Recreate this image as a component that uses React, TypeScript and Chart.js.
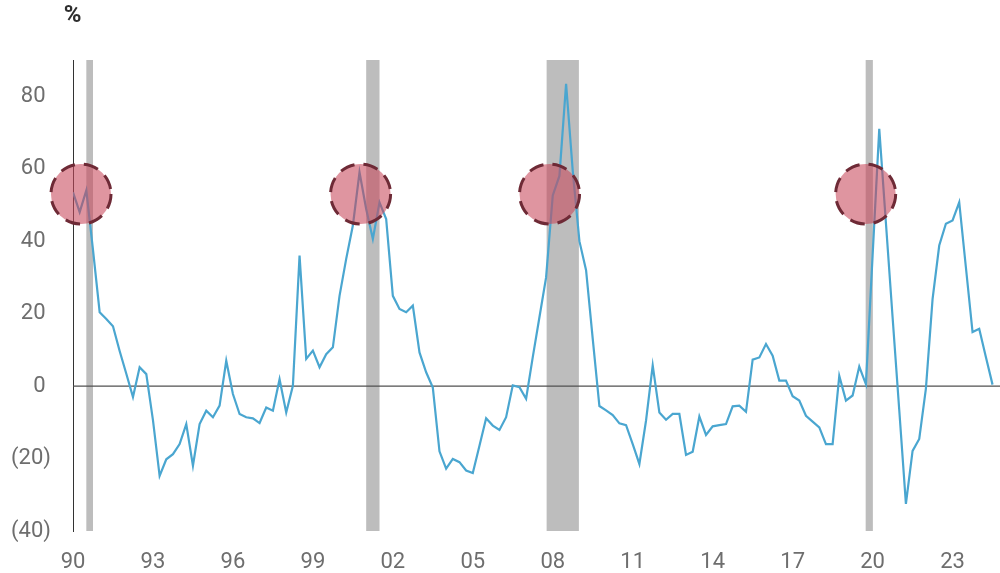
import React, { useEffect, useRef } from 'react';
import { Chart, registerables } from 'chart.js';

Chart.register(...registerables);

// Quarterly series starting 1990 Q1 (percent)
const startYear = 1990;
const growthValues = [
  53.5, 48, 54, 37.6, 20.4, 18.5, 16.5, 9.7, 3.4, -3,
  5.2, 3.3, -9.4, -24.8, -20.2, -18.8, -16, -10.5, -22, -10.5,
  -6.8, -8.6, -5.4, 7, -2.2, -7.7, -8.6, -8.9, -10.2, -5.9,
  -6.8, 1.9, -7.3, 0.1, 36, 7.5, 9.8, 5.2, 8.8, 10.7,
  24.9, 35.1, 44.3, 59, 48.9, 40.6, 50.7, 46.1, 24.9, 21.3,
  20.4, 22.2, 9.3, 3.8, -0.4, -18, -22.8, -20.1, -21, -23.3,
  -24, -16.5, -8.9, -10.9, -12.1, -8.6, 0.2, -0.3, -3.5, 8,
  19, 30, 52.6, 58, 83.4, 59.4, 40, 32, 13, -5.5,
  -6.7, -8, -10.3, -10.8, -16, -21.5, -9.5, 5.7, -7.3, -9.3,
  -7.7, -7.7, -19, -18.1, -8.4, -13.5, -11.1, -10.8, -10.5, -5.6,
  -5.4, -7.1, 7.3, 7.9, 11.6, 8.4, 1.5, 1.5, -2.8, -4,
  -8.2, -9.8, -11.4, -16, -16, 2.8, -4, -2.6, 5.4, 0.5,
  36, 71, 45, 19, -6.6, -32.5, -17.9, -14.6, -0.7, 24,
  38.8, 44.8, 45.7, 50.7, 32.8, 14.9, 15.8, 8, 0.4,
];
const quarterDates = growthValues.map((_, i) => startYear + i / 4);

const xTickYears = [1990, 1993, 1996, 1999, 2002, 2005, 2008, 2011, 2014, 2017, 2020, 2023];
const yTickValues = [-40, -20, 0, 20, 40, 60, 80];

const recessionStarts = [1990.5, 2001.0, 2007.77, 2019.74];
const recessionEnds = [1990.75, 2001.5, 2008.98, 2020.01];

const highlightYears = [1990.3, 2000.79, 2007.88, 2019.74];
const highlightValues = [53, 53, 53, 53];

const FONT = 'Roboto, "Noto Sans", Arial, sans-serif';

const overlayPlugin = {
  id: 'overlay',
  beforeDatasetsDraw(chart: any) {
    const { ctx, chartArea, scales } = chart;
    const x = scales.x;
    const y = scales.y;
    ctx.save();
    ctx.fillStyle = '#bdbdbd';
    recessionStarts.forEach((s, k) => {
      const x0 = x.getPixelForValue(s);
      const x1 = x.getPixelForValue(recessionEnds[k]);
      ctx.fillRect(x0, chartArea.top, x1 - x0, chartArea.bottom - chartArea.top);
    });
    const y0 = y.getPixelForValue(0);
    ctx.strokeStyle = '#505050';
    ctx.lineWidth = 1.3;
    ctx.beginPath();
    ctx.moveTo(chartArea.left, y0);
    ctx.lineTo(chartArea.right, y0);
    ctx.stroke();
    ctx.restore();
  },
  afterDatasetsDraw(chart: any) {
    const { ctx, scales } = chart;
    const x = scales.x;
    const y = scales.y;
    ctx.save();
    highlightYears.forEach((yr, k) => {
      const cx = x.getPixelForValue(yr);
      const cy = y.getPixelForValue(highlightValues[k]);
      ctx.beginPath();
      ctx.arc(cx, cy, 30, 0, Math.PI * 2);
      ctx.fillStyle = 'rgba(200, 72, 92, 0.58)';
      ctx.fill();
      ctx.setLineDash([15, 9]);
      ctx.lineWidth = 3;
      ctx.strokeStyle = '#6e2a36';
      ctx.stroke();
    });
    ctx.restore();
  },
  afterDraw(chart: any) {
    const { ctx } = chart;
    ctx.save();
    ctx.font = `bold 24px ${FONT}`;
    ctx.fillStyle = '#2e2e2e';
    ctx.textAlign = 'center';
    ctx.textBaseline = 'middle';
    ctx.fillText('%', 72.5, 16);
    ctx.restore();
  },
};

export default function App() {
  const canvasRef = useRef<HTMLCanvasElement | null>(null);

  useEffect(() => {
    const canvas = canvasRef.current;
    if (!canvas) return;
    const chart = new Chart(canvas, {
      type: 'line',
      data: {
        datasets: [
          {
            data: quarterDates.map((d, i) => ({ x: d, y: growthValues[i] })),
            borderColor: '#4aa6d0',
            borderWidth: 2.2,
            pointRadius: 0,
            tension: 0,
            fill: false,
          },
        ],
      },
      options: {
        animation: false,
        responsive: false,
        devicePixelRatio: 1,
        layout: { padding: { top: 60, left: 0, right: 0, bottom: 0 } },
        plugins: {
          legend: { display: false },
          tooltip: { enabled: false },
        },
        scales: {
          x: {
            type: 'linear',
            min: 1990,
            max: 2024.78,
            grid: { display: false, drawTicks: false },
            border: { display: false },
            afterBuildTicks: (axis: any) => {
              axis.ticks = xTickYears.map((v) => ({ value: v }));
            },
            afterFit: (axis: any) => {
              axis.height = 42;
            },
            ticks: {
              autoSkip: false,
              maxRotation: 0,
              padding: 18,
              color: '#6e6e6e',
              font: { family: FONT, size: 22 },
              callback: (v: any) => String(Number(v) % 100).padStart(2, '0'),
            },
          },
          y: {
            type: 'linear',
            min: -40,
            max: 90,
            grid: { display: false, drawTicks: false },
            border: { display: true, color: '#333333', width: 1 },
            afterBuildTicks: (axis: any) => {
              axis.ticks = yTickValues.map((v) => ({ value: v }));
            },
            afterFit: (axis: any) => {
              axis.width = 73;
            },
            ticks: {
              padding: 22,
              color: '#6e6e6e',
              font: { family: FONT, size: 22 },
              callback: (v: any) => {
                const n = Number(v);
                return n < 0 ? `(${-n})` : `${n} `;
              },
            },
          },
        },
      },
      plugins: [overlayPlugin],
    });
    return () => chart.destroy();
  }, []);

  return (
    <div style={{ position: 'absolute', left: 0, top: 0, width: 1000, height: 573, background: '#ffffff' }}>
      <canvas ref={canvasRef} width={1000} height={573} />
    </div>
  );
}
